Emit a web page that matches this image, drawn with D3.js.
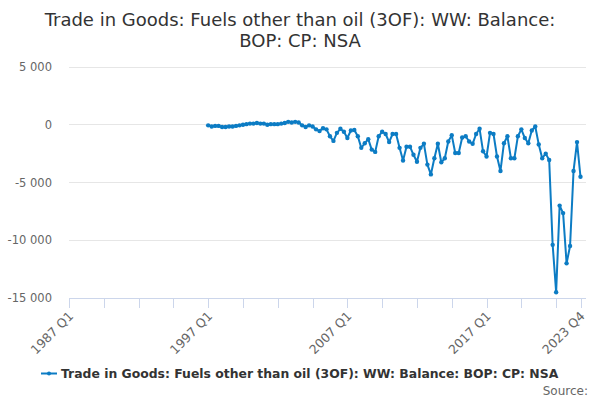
<!DOCTYPE html>
<html><head><meta charset="utf-8">
<script src="https://cdn.jsdelivr.net/npm/d3@7"></script>
<style>body{margin:0;background:#fff}svg{display:block}</style>
</head><body><svg id="c" width="600" height="400"></svg>
<script>
const titleLines = ["Trade in Goods: Fuels other than oil (3OF): WW: Balance:", "BOP: CP: NSA"];
const seriesName = "Trade in Goods: Fuels other than oil (3OF): WW: Balance: BOP: CP: NSA";
const axisStart = "1987 Q1";
const axisEnd = "2023 Q4";
const dataStart = "1997 Q1";
const tickLabels = ["1987 Q1", "1997 Q1", "2007 Q1", "2017 Q1", "2023 Q4"];
const yTicks = [5000, 0, -5000, -10000, -15000];
const values = [
  -50, -150, -100, -100, -200, -200, -150, -150, -100, -50,
  0, 50, 100, 100, 150, 100, 100, 0, 50, 50,
  50, 100, 150, 250, 200, 250, 200, -50, -200, -50,
  -150, -400, -550, -300, -400, -1000, -1400, -700, -350, -600,
  -1150, -500, -450, -1000, -2000, -1600, -1250, -2150, -2350, -1000,
  -600, -800, -1500, -800, -800, -2000, -3100, -1900, -1900, -2600,
  -3200, -2000, -1650, -3450, -4300, -2900, -1650, -3250, -2900, -1450,
  -900, -2450, -2450, -1100, -1000, -1450, -1650, -800, -350, -2300,
  -2750, -700, -800, -2750, -4000, -1600, -1000, -2900, -2900, -1000,
  -400, -1150, -1600, -500, -150, -1700, -2900, -2500, -3050, -10400,
  -14500, -7000, -7650, -12000, -10500, -4000, -1500, -4500
];

function qIndex(s){ const [y,q]=s.split(" Q"); return (+y)*4 + (+q-1); }
const base = qIndex(axisStart);
const startIdx = qIndex(dataStart) - base;
const data = values.map((v,i)=>({q:startIdx+i, v}));

const svg = d3.select("#c");
const font = "'DejaVu Sans', sans-serif";
const x = d3.scaleLinear().domain([0, qIndex(axisEnd)-base]).range([69, 580.5]);
const y = d3.scaleLinear().domain([-15000, 5000]).range([298, 67]);
const plotRight = 586;

// title
svg.append("text").attr("x",300).attr("y",26).attr("text-anchor","middle")
  .style("font-family",font).style("font-size","18px").attr("fill","#333")
  .selectAll("tspan").data(titleLines).join("tspan")
  .attr("x",300).attr("dy",(d,i)=>i?21:0).text(d=>d);

// grid
const fmt = v => d3.format(",")(v).replace(/,/g," ").replace("−","-");
svg.append("g").selectAll("line").data(yTicks.filter(t=>t!==-15000)).join("line")
  .attr("x1",69).attr("x2",plotRight).attr("y1",d=>y(d)).attr("y2",d=>y(d))
  .attr("stroke","#e6e6e6").attr("stroke-width",1).attr("shape-rendering","crispEdges");
svg.append("g").selectAll("text").data(yTicks).join("text")
  .attr("x",52).attr("y",d=>y(d)+4).attr("text-anchor","end")
  .style("font-family",font).style("font-size","11.5px").attr("fill","#666")
  .text(d=>fmt(d));

// x axis
const ticks = d3.range(0, qIndex(axisEnd)-base, 10).concat([qIndex(axisEnd)-base]);
const xa = svg.append("g").attr("transform","translate(0,298)");
xa.append("line").attr("x1",69).attr("x2",plotRight).attr("y1",0.5).attr("y2",0.5)
  .attr("stroke","#ccd6eb");
xa.selectAll("line.t").data(ticks).join("line").attr("class","t")
  .attr("x1",d=>Math.round(x(d))+0.5).attr("x2",d=>Math.round(x(d))+0.5)
  .attr("y1",0).attr("y2",10).attr("stroke","#ccd6eb");
xa.selectAll("text").data(tickLabels).join("text")
  .attr("text-anchor","end")
  .attr("transform",d=>`translate(${x(qIndex(d)-base)+5},${19}) rotate(-45)`)
  .style("font-family",font).style("font-size","12.5px").attr("fill","#666")
  .text(d=>d);

// series
const color = "#0c7cc4";
svg.append("path").datum(data)
  .attr("d", d3.line().x(d=>x(d.q)).y(d=>y(d.v)))
  .attr("fill","none").attr("stroke",color).attr("stroke-width",2).attr("stroke-linejoin","round");
svg.append("g").selectAll("circle").data(data).join("circle")
  .attr("cx",d=>x(d.q)).attr("cy",d=>y(d.v)).attr("r",2.2).attr("fill",color);

// legend
const lg = svg.append("g");
lg.append("text").attr("x",61).attr("y",378)
  .style("font-family",font).style("font-size","12.4px").style("font-weight","bold").attr("fill","#333")
  .text(seriesName);
lg.append("line").attr("x1",41).attr("x2",57).attr("y1",373.5).attr("y2",373.5).attr("stroke",color).attr("stroke-width",2);
lg.append("circle").attr("cx",49).attr("cy",373.5).attr("r",2).attr("fill",color);

svg.append("text").attr("x",588).attr("y",395).attr("text-anchor","end")
  .style("font-family",font).style("font-size","12px").attr("fill","#666").text("Source:");
</script></body></html>
